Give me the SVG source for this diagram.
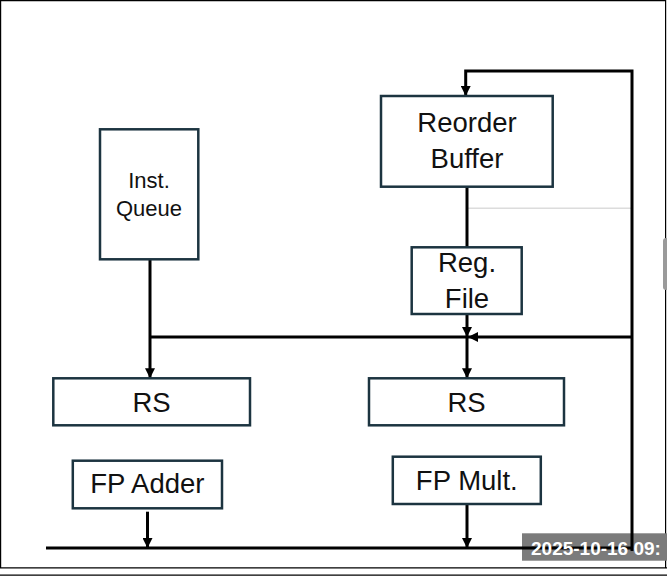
<svg xmlns="http://www.w3.org/2000/svg" width="667" height="576" viewBox="0 0 667 576">
<defs>
<marker id="ah" viewBox="0 0 10 10" refX="10" refY="5" markerWidth="10" markerHeight="10" markerUnits="userSpaceOnUse" orient="auto">
<path d="M0,0 L10,5 L0,10 Z" fill="#000"/>
</marker>
<style>
.box{fill:#fff;stroke:#1c3440;stroke-width:2.5}
.ln{fill:none;stroke:#000;stroke-width:3}
.t{font-family:"Liberation Sans",Arial,sans-serif;font-size:27.5px;fill:#111;text-anchor:middle}
</style>
</defs>
<rect x="0" y="0" width="667" height="576" fill="#fff"/>
<g id="frame" fill="none" stroke="#000" stroke-width="1.2">
<path d="M0.6,568 V0.6 H665.6 V568"/>
<line x1="0" y1="567.8" x2="667" y2="567.8"/>
<line x1="0" y1="575.2" x2="667" y2="575.2"/>
</g>
<rect x="663" y="238" width="6" height="52" rx="3" fill="#9a9a9a"/>
<g id="timestamp-bg">
<rect x="522" y="533.3" width="145" height="27.4" fill="#7b7b7b"/>
</g>
<g id="connectors">
<line x1="468" y1="208.3" x2="632" y2="208.3" stroke="#dcdcdc" stroke-width="1.5"/>
<path class="ln" d="M632,551 V71 H465.7 V96" marker-end="url(#ah)"/>
<line class="ln" x1="467" y1="186.7" x2="467" y2="247.3"/>
<line class="ln" x1="467" y1="314" x2="467" y2="337" marker-end="url(#ah)"/>
<line class="ln" x1="632" y1="337" x2="468" y2="337" marker-end="url(#ah)"/>
<line class="ln" x1="150" y1="337" x2="467" y2="337"/>
<line class="ln" x1="467" y1="337" x2="467" y2="378.3" marker-end="url(#ah)"/>
<line class="ln" x1="150" y1="259.3" x2="150" y2="378.3" marker-end="url(#ah)"/>
<line class="ln" x1="46" y1="548" x2="632" y2="548"/>
<line class="ln" x1="147.5" y1="511.7" x2="147.5" y2="548" marker-end="url(#ah)"/>
<line class="ln" x1="467" y1="504" x2="467" y2="548" marker-end="url(#ah)"/>
</g>
<g id="timestamp">
<text x="531" y="555" font-family="Liberation Sans,Arial,sans-serif" font-size="19" font-weight="bold" fill="#fff">2025-10-16 09:</text>
</g>
<g id="rob">
<rect class="box" x="381" y="96" width="171.7" height="90.7"/>
<text class="t" x="467" y="132">Reorder</text>
<text class="t" x="467" y="168">Buffer</text>
</g>
<g id="regfile">
<rect class="box" x="411.7" y="247.3" width="110" height="66.7"/>
<text class="t" x="467" y="272">Reg.</text>
<text class="t" x="467" y="308">File</text>
</g>
<g id="instqueue">
<rect class="box" x="100" y="129.3" width="98.3" height="130"/>
<text class="t" x="149" y="188" style="font-size:22px">Inst.</text>
<text class="t" x="149" y="216" style="font-size:22px">Queue</text>
</g>
<g id="rs1">
<rect class="box" x="53.3" y="378.3" width="196.7" height="47"/>
<text class="t" x="151.5" y="412">RS</text>
</g>
<g id="rs2">
<rect class="box" x="369" y="378.3" width="195" height="47"/>
<text class="t" x="466.5" y="412">RS</text>
</g>
<g id="fpadder">
<rect class="box" x="72.8" y="460.7" width="149.2" height="47.6"/>
<text class="t" x="147.4" y="493">FP Adder</text>
</g>
<g id="fpmult">
<rect class="box" x="392.8" y="456.7" width="148" height="47.3"/>
<text class="t" x="466.8" y="490">FP Mult.</text>
</g>
</svg>
